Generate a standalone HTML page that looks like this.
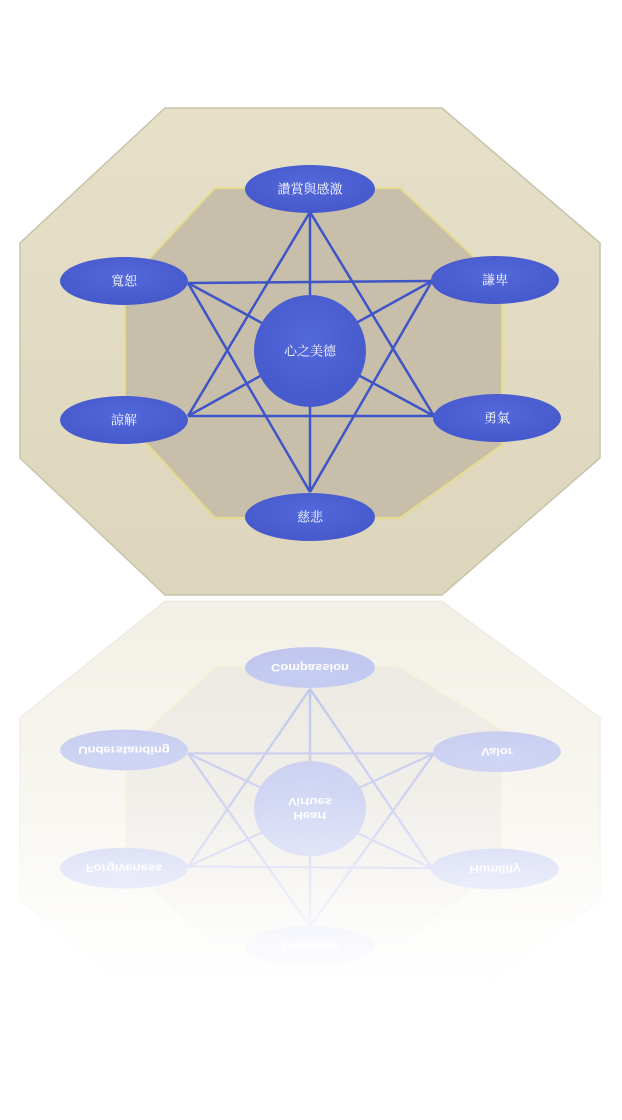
<!DOCTYPE html>
<html><head><meta charset="utf-8"><style>
html,body{margin:0;padding:0;background:#fff;}
svg{display:block}
.t{font-family:"Liberation Serif","Noto Serif CJK SC",serif;fill:#fff;font-size:13px;text-anchor:middle;dominant-baseline:central;}
.e{font-family:"Liberation Sans",sans-serif;fill:#fff;font-size:13px;text-anchor:middle;dominant-baseline:central;font-weight:bold;}
</style></head><body>
<svg width="622" height="1120" viewBox="0 0 622 1120" xmlns="http://www.w3.org/2000/svg">
<defs>
<linearGradient id="og" x1="0" y1="0" x2="0" y2="1"><stop offset="0" stop-color="#e6e0c9"/><stop offset="1" stop-color="#ddd6bc"/></linearGradient>
<radialGradient id="eg" cx="0.5" cy="0.4" r="0.6"><stop offset="0" stop-color="#5368da"/><stop offset="1" stop-color="#4659cc"/></radialGradient>
<linearGradient id="fade" x1="0" y1="0" x2="0" y2="1"><stop offset="0" stop-color="#fff" stop-opacity="0.38"/><stop offset="0.5" stop-color="#fff" stop-opacity="0.25"/><stop offset="0.85" stop-color="#fff" stop-opacity="0.04"/><stop offset="1" stop-color="#fff" stop-opacity="0"/></linearGradient>
<mask id="m" maskUnits="userSpaceOnUse" x="0" y="595" width="622" height="430"><rect x="0" y="598" width="622" height="400" fill="url(#fade)"/></mask>
<g id="shapes">
<polygon points="165,108 442,108 600,243 600,458 442,595 165,595 20,458 20,243" fill="url(#og)" stroke="#c9c3aa" stroke-width="1.5"/>
<polygon points="215,188 400,188 475,258 502,300 502,445 400,518 215,518 148,445 125,420 125,300 150,258" fill="#c8bfab" stroke="#e6db8e" stroke-width="2"/>
<g stroke="#3f54c6" stroke-width="2.5" fill="none">
<line x1="310" y1="212" x2="188" y2="416"/>
<line x1="310" y1="212" x2="434" y2="416"/>
<line x1="188" y1="416" x2="434" y2="416"/>
<line x1="188" y1="283" x2="432" y2="281"/>
<line x1="188" y1="283" x2="310" y2="492"/>
<line x1="432" y1="281" x2="310" y2="492"/>
<line x1="188" y1="283" x2="434" y2="416"/>
<line x1="432" y1="281" x2="188" y2="416"/>
<line x1="310" y1="212" x2="310" y2="492"/>
</g>
<g fill="url(#eg)">
<ellipse cx="310" cy="189" rx="65" ry="24"/>
<ellipse cx="124" cy="281" rx="64" ry="24"/>
<ellipse cx="495" cy="280" rx="64" ry="24"/>
<ellipse cx="124" cy="420" rx="64" ry="24"/>
<ellipse cx="497" cy="418" rx="64" ry="24"/>
<ellipse cx="310" cy="517" rx="65" ry="24"/>
<ellipse cx="310" cy="351" rx="56" ry="56"/>
</g>
</g>
</defs>
<use href="#shapes"/>
<text class="t" x="310" y="189">讚賞與感激</text>
<text class="t" x="124" y="281">寬恕</text>
<text class="t" x="495" y="280">謙卑</text>
<text class="t" x="124" y="420">諒解</text>
<text class="t" x="497" y="418">勇氣</text>
<text class="t" x="310" y="517">慈悲</text>
<text class="t" x="310" y="351">心之美德</text>
<g mask="url(#m)">
<g transform="translate(0,1107) scale(1,-0.85)">
<use href="#shapes"/>
<text class="e" x="310" y="517">Compassion</text>
<text class="e" x="124" y="420">Understanding</text>
<text class="e" x="497" y="418">Valor</text>
<text class="e" x="124" y="281">Forgiveness</text>
<text class="e" x="495" y="280">Humility</text>
<text class="e" x="310" y="343">Heart</text>
<text class="e" x="310" y="359">Virtues</text>
<text class="e" x="310" y="189">Gratitude</text>
</g>
</g>
</svg>
</body></html>
